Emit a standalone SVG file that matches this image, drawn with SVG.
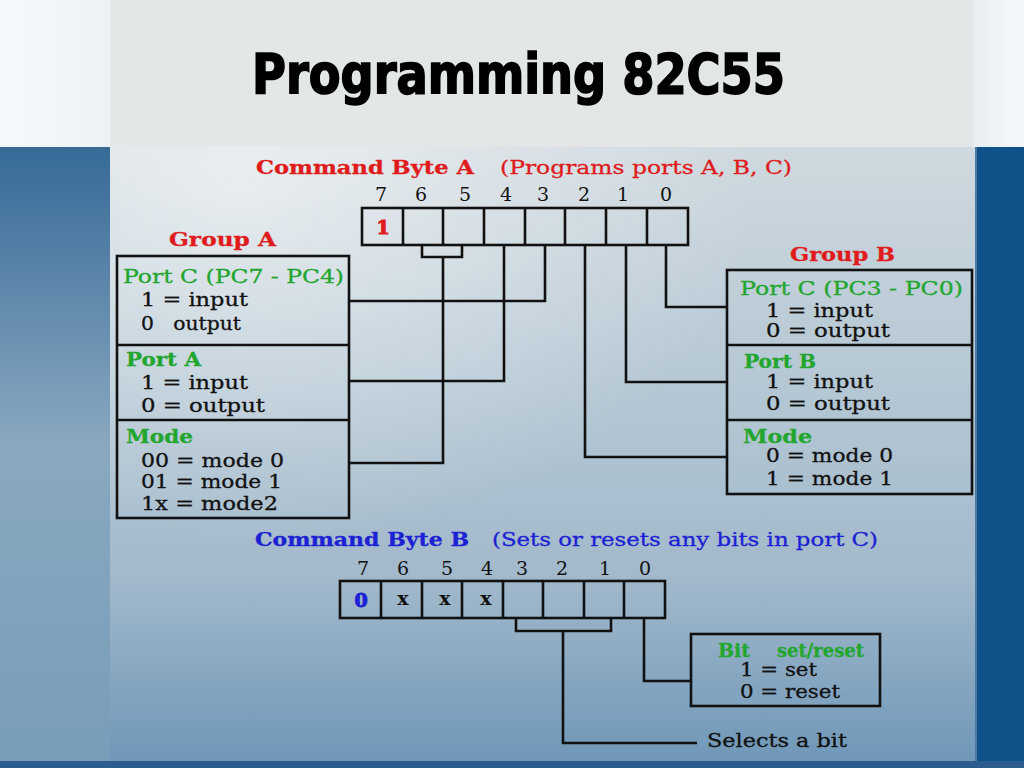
<svg xmlns="http://www.w3.org/2000/svg" width="1024" height="768" viewBox="0 0 1024 768">
<defs>
<linearGradient id="topBand" x1="0" y1="0" x2="1" y2="0">
<stop offset="0" stop-color="#f6f9fb"/><stop offset="0.107" stop-color="#eef2f5"/><stop offset="0.108" stop-color="#e4e7e8"/><stop offset="0.95" stop-color="#e3e6e7"/><stop offset="0.952" stop-color="#e8eef2"/><stop offset="1" stop-color="#f6f9fb"/>
</linearGradient>
<linearGradient id="panel" x1="0" y1="0" x2="0" y2="1">
<stop offset="0" stop-color="#cfd9df"/><stop offset="0.35" stop-color="#b7c9d5"/><stop offset="0.7" stop-color="#a2b9cb"/><stop offset="1" stop-color="#6f97b8"/>
</linearGradient>
<radialGradient id="glow" cx="0.15" cy="0.05" r="0.6">
<stop offset="0" stop-color="#ffffff" stop-opacity="0.55"/><stop offset="1" stop-color="#ffffff" stop-opacity="0"/>
</radialGradient>
<linearGradient id="leftStrip" x1="0" y1="0" x2="0" y2="1">
<stop offset="0" stop-color="#376a97"/><stop offset="0.3" stop-color="#6990b1"/><stop offset="0.48" stop-color="#89a8c0"/><stop offset="1" stop-color="#789db9"/>
</linearGradient>
<style>
.ln{fill:none;stroke:#111;stroke-width:2.6}
.bx{fill:none;stroke:#111;stroke-width:2.6}
.t{font-family:"DejaVu Serif","Liberation Serif",serif;fill:#111;font-size:19px;stroke:#111;stroke-width:0.3}
.num{font-family:"DejaVu Serif","Liberation Serif",serif;fill:#111;font-size:19px;text-anchor:middle}
.red{fill:#e01b1b;stroke:#e01b1b}
.grn{fill:#22a62e;stroke:#22a62e}
.blu{fill:#1c22d4;stroke:#1c22d4}
.b{font-weight:bold}
</style>
</defs>
<!-- background -->
<rect x="0" y="0" width="1024" height="148" fill="url(#topBand)"/>
<rect x="110" y="147" width="866" height="616" fill="url(#panel)"/>
<rect x="110" y="147" width="866" height="616" fill="url(#glow)"/>
<rect x="0" y="147" width="110" height="616" fill="url(#leftStrip)"/>
<rect x="975" y="147" width="49" height="616" fill="#0f528a"/>
<rect x="975" y="147" width="2" height="616" fill="#4a7aa3"/>
<rect x="0" y="761" width="1024" height="7" fill="#2a5d8d"/>

<text x="252" y="93" font-family="'DejaVu Sans Condensed','Liberation Sans Narrow','DejaVu Sans',sans-serif" font-weight="bold" font-size="55" fill="#000" stroke="#000" stroke-width="1.6" textLength="533" lengthAdjust="spacingAndGlyphs">Programming 82C55</text>

<g id="byteA">
<text class="t red b" x="256" y="174" font-size="21" textLength="218" lengthAdjust="spacingAndGlyphs">Command Byte A</text>
<text class="t red" x="500" y="174" font-size="21" textLength="292" lengthAdjust="spacingAndGlyphs">(Programs ports A, B, C)</text>
<text class="num" x="381" y="201">7</text><text class="num" x="421" y="201">6</text><text class="num" x="465" y="201">5</text><text class="num" x="506" y="201">4</text><text class="num" x="543" y="201">3</text><text class="num" x="584" y="201">2</text><text class="num" x="623" y="201">1</text><text class="num" x="666" y="201">0</text>
<rect class="bx" x="362" y="208" width="326" height="37"/>
<path class="ln" d="M403 208V245M443 208V245M484 208V245M525 208V245M565 208V245M606 208V245M647 208V245"/>
<text class="num red b" x="383" y="234" font-size="20">1</text>
</g>

<g id="groupA">
<text class="t red b" x="169" y="246" font-size="20" textLength="107" lengthAdjust="spacingAndGlyphs">Group A</text>
<rect class="bx" x="117" y="256" width="232" height="262"/>
<path class="ln" d="M117 345H349M117 420H349"/>
<text class="t grn" x="123" y="283" font-size="20" textLength="221" lengthAdjust="spacingAndGlyphs">Port C (PC7 - PC4)</text>
<text class="t" x="141" y="306" textLength="107" lengthAdjust="spacingAndGlyphs">1 = input</text>
<text class="t" x="141" y="330" textLength="100" lengthAdjust="spacingAndGlyphs">0&#160;&#160;&#160;output</text>
<text class="t grn b" x="126" y="366" font-size="20" textLength="75" lengthAdjust="spacingAndGlyphs">Port A</text>
<text class="t" x="141" y="389" textLength="107" lengthAdjust="spacingAndGlyphs">1 = input</text>
<text class="t" x="141" y="412" textLength="124" lengthAdjust="spacingAndGlyphs">0 = output</text>
<text class="t grn b" x="126" y="443" font-size="20" textLength="67" lengthAdjust="spacingAndGlyphs">Mode</text>
<text class="t" x="141" y="467" textLength="143" lengthAdjust="spacingAndGlyphs">00 = mode 0</text>
<text class="t" x="141" y="488" textLength="141" lengthAdjust="spacingAndGlyphs">01 = mode 1</text>
<text class="t" x="141" y="510" textLength="137" lengthAdjust="spacingAndGlyphs">1x = mode2</text>
</g>

<g id="groupB">
<text class="t red b" x="790" y="261" font-size="20" textLength="105" lengthAdjust="spacingAndGlyphs">Group B</text>
<rect class="bx" x="727" y="270" width="245" height="224"/>
<path class="ln" d="M727 345H972M727 420H972"/>
<text class="t grn" x="740" y="295" font-size="19" textLength="223" lengthAdjust="spacingAndGlyphs">Port C (PC3 - PC0)</text>
<text class="t" x="766" y="317" font-size="18" textLength="107" lengthAdjust="spacingAndGlyphs">1 = input</text>
<text class="t" x="766" y="337" font-size="18" textLength="124" lengthAdjust="spacingAndGlyphs">0 = output</text>
<text class="t grn b" x="744" y="368" font-size="20" textLength="72" lengthAdjust="spacingAndGlyphs">Port B</text>
<text class="t" x="766" y="388" textLength="107" lengthAdjust="spacingAndGlyphs">1 = input</text>
<text class="t" x="766" y="410" textLength="124" lengthAdjust="spacingAndGlyphs">0 = output</text>
<text class="t grn b" x="743" y="443" font-size="20" textLength="69" lengthAdjust="spacingAndGlyphs">Mode</text>
<text class="t" x="766" y="462" textLength="127" lengthAdjust="spacingAndGlyphs">0 = mode 0</text>
<text class="t" x="766" y="485" textLength="127" lengthAdjust="spacingAndGlyphs">1 = mode 1</text>
</g>

<g id="byteB">
<text class="t blu b" x="255" y="546" font-size="21" textLength="214" lengthAdjust="spacingAndGlyphs">Command Byte B</text>
<text class="t blu" x="492" y="546" font-size="21" textLength="386" lengthAdjust="spacingAndGlyphs">(Sets or resets any bits in port C)</text>
<text class="num" x="363" y="575">7</text><text class="num" x="403" y="575">6</text><text class="num" x="447" y="575">5</text><text class="num" x="487" y="575">4</text><text class="num" x="522" y="575">3</text><text class="num" x="562" y="575">2</text><text class="num" x="605" y="575">1</text><text class="num" x="645" y="575">0</text>
<rect class="bx" x="340" y="581" width="325" height="37"/>
<path class="ln" d="M381 581V618M422 581V618M462 581V618M503 581V618M543 581V618M584 581V618M624 581V618"/>
<text class="num blu b" x="361" y="607" font-size="20">0</text>
<text class="num b" x="403" y="605">x</text><text class="num b" x="445" y="605">x</text><text class="num b" x="486" y="605">x</text>
</g>

<g id="bitSetReset">
<rect class="bx" x="691" y="634" width="189" height="72"/>
<text class="t grn b" x="718" y="657" font-size="19" textLength="32" lengthAdjust="spacingAndGlyphs">Bit</text>
<text class="t grn b" x="777" y="657" font-size="19" textLength="87" lengthAdjust="spacingAndGlyphs">set/reset</text>
<text class="t" x="740" y="676" textLength="77" lengthAdjust="spacingAndGlyphs">1 = set</text>
<text class="t" x="740" y="698" textLength="100" lengthAdjust="spacingAndGlyphs">0 = reset</text>
</g>

<g id="selects">
<text class="t" x="707" y="747" textLength="140" lengthAdjust="spacingAndGlyphs">Selects a bit</text>
</g>

<g id="connectors">
<path class="ln" d="M422 245V257H462V245M443 257V463H349"/>
<path class="ln" d="M504 245V381H349"/>
<path class="ln" d="M545 245V301H349"/>
<path class="ln" d="M585 245V457H727"/>
<path class="ln" d="M626 245V382H727"/>
<path class="ln" d="M666 245V307H727"/>
<path class="ln" d="M516 618V631H611V618M563 631V743H697"/>
<path class="ln" d="M644 618V681H691"/>
</g>
</svg>
